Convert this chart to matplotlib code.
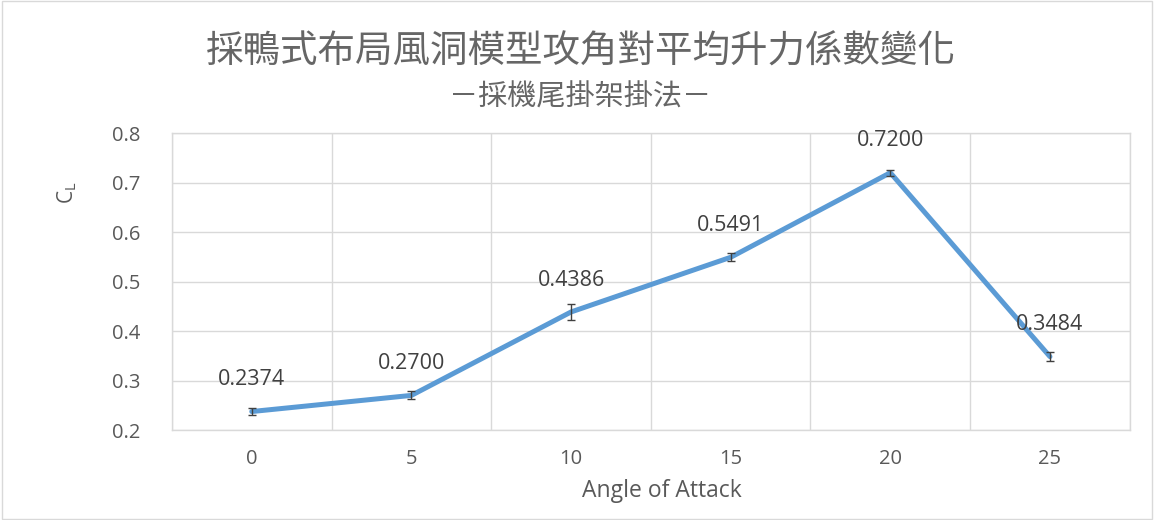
import matplotlib
matplotlib.use('Agg')
import matplotlib.pyplot as plt
from matplotlib.patches import Rectangle
import numpy as np

angles = [0, 5, 10, 15, 20, 25]
cl_mean = [0.2374, 0.2700, 0.4386, 0.5491, 0.7200, 0.3484]
cl_err = [0.007, 0.008, 0.016, 0.008, 0.006, 0.009]
value_labels = ['0.2374', '0.2700', '0.4386', '0.5491', '0.7200', '0.3484']

title = '採鴨式布局風洞模型攻角對平均升力係數變化'
subtitle = '－採機尾掛架掛法－'

text_color = '#595959'
grid_color = '#d9d9d9'
line_color = '#5B9BD5'

plt.rcParams['font.family'] = ['Open Sans', 'DejaVu Sans']

fig = plt.figure(figsize=(11.54, 5.2), dpi=100)
fig.patches.append(Rectangle((0.002, 0.002), 0.996, 0.996, transform=fig.transFigure,
                             fill=False, edgecolor=grid_color, linewidth=1.0))
ax = fig.add_axes([0.149, 0.173, 0.830, 0.571])

x = np.arange(len(angles))
ax.plot(x, cl_mean, color=line_color, linewidth=3.6, solid_capstyle='round', zorder=3)
ax.errorbar(x, cl_mean, yerr=cl_err, fmt='none', ecolor='#404040',
            elinewidth=1.0, capsize=3, capthick=1.0, zorder=4)

for xi, yi, lab in zip(x, cl_mean, value_labels):
    ax.annotate(lab, (xi, yi), xytext=(0, 23), textcoords='offset points',
                ha='center', va='center', fontsize=15.5, color='#404040')

ax.set_xlim(-0.5, len(angles) - 0.5)
ax.set_ylim(0.2, 0.8)
ax.set_yticks(np.arange(0.2, 0.81, 0.1))
ax.set_yticklabels([f'{v:.1f}' for v in np.arange(0.2, 0.81, 0.1)])
ax.set_xticks(x)
ax.set_xticklabels([str(a) for a in angles])
ax.set_xticks(np.arange(-0.5, len(angles), 1.0), minor=True)

ax.grid(True, which='minor', axis='x', color=grid_color, linewidth=1.0)
ax.grid(True, which='major', axis='y', color=grid_color, linewidth=1.0)
ax.set_axisbelow(True)
for s in ax.spines.values():
    s.set_color(grid_color)
    s.set_linewidth(1.0)

ax.tick_params(which='both', length=0, labelsize=14.5, colors=text_color, pad=14)
ax.tick_params(axis='y', pad=23)

ax.set_xlabel('Angle of Attack', fontsize=16.5, color=text_color)
ax.xaxis.set_label_coords(0.512, -0.165)
ax.set_ylabel(r'$\mathregular{C_L}$', fontsize=15, color=text_color)
ax.yaxis.set_label_coords(-0.097, 0.80)

fig.text(0.503, 0.900, title, ha='center', va='center', fontsize=27,
         color='#666666', family=['Noto Sans CJK TC', 'DejaVu Sans'], fontweight='light')
fig.text(0.503, 0.813, subtitle, ha='center', va='center', fontsize=21,
         color='#666666', family=['Noto Sans CJK TC', 'DejaVu Sans'], fontweight='light')

fig.savefig('out.png', dpi=100)
